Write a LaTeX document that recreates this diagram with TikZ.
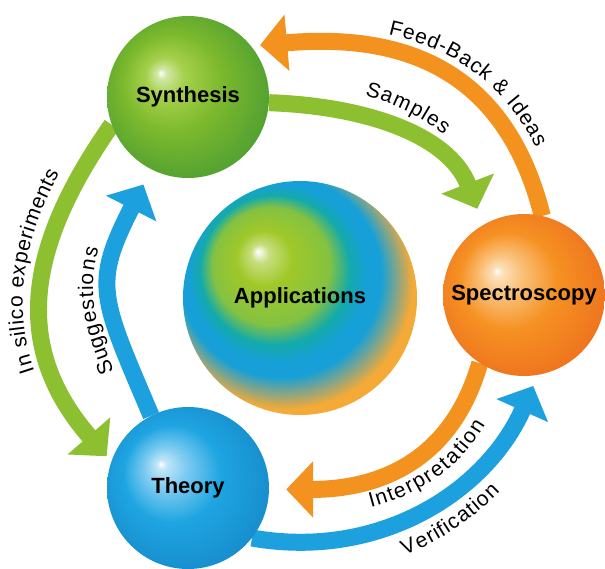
\documentclass[tikz,border=0pt]{standalone}
\usepackage{fontspec}
\setmainfont{Liberation Sans}
\usetikzlibrary{arrows.meta, backgrounds, decorations.text}

\definecolor{arrorange}{RGB}{243,146,30}
\definecolor{arrgreen}{RGB}{141,192,48}
\definecolor{arrblue}{RGB}{28,160,222}

\definecolor{synlight}{RGB}{165,208,75}
\definecolor{synmid}{RGB}{125,185,45}
\definecolor{syndark}{RGB}{35,135,55}
\definecolor{speclight}{RGB}{250,195,125}
\definecolor{specmid}{RGB}{246,145,35}
\definecolor{specdark}{RGB}{228,78,24}
\definecolor{theolight}{RGB}{130,205,242}
\definecolor{theomid}{RGB}{30,165,225}
\definecolor{theodark}{RGB}{15,110,180}
\definecolor{appgreen}{RGB}{160,200,40}
\definecolor{appteal}{RGB}{20,170,170}
\definecolor{appblue}{RGB}{22,160,215}
\definecolor{apporange}{RGB}{245,170,55}

% radial shadings, the sphere edge lies at about 25bp
\pgfdeclareradialshading{synball}{\pgfpoint{-8.5bp}{7.5bp}}{%
  color(0bp)=(white); color(1.5bp)=(white!50!synlight); color(6bp)=(synlight);
  color(15bp)=(synmid); color(27bp)=(synmid!55!syndark); color(36bp)=(syndark)}
\pgfdeclareradialshading{specball}{\pgfpoint{-8.5bp}{7.5bp}}{%
  color(0bp)=(white); color(1.5bp)=(white!50!speclight); color(6bp)=(speclight);
  color(15bp)=(specmid); color(27bp)=(specmid!60!specdark); color(36bp)=(specdark)}
\pgfdeclareradialshading{theoball}{\pgfpoint{-8.5bp}{7.5bp}}{%
  color(0bp)=(white); color(1.5bp)=(white!50!theolight); color(6bp)=(theolight);
  color(15bp)=(theomid); color(27bp)=(theomid!60!theodark); color(36bp)=(theodark)}
\pgfdeclareradialshading{appball}{\pgfpoint{-9bp}{10bp}}{%
  color(0bp)=(white); color(2bp)=(white!40!appgreen); color(6bp)=(appgreen);
  color(12.5bp)=(appgreen!80!appteal); color(16bp)=(appteal); color(19bp)=(appblue);
  color(21.5bp)=(appblue); color(27bp)=(apporange); color(40bp)=(apporange)}

\newcommand{\spherefont}{\fontsize{22}{24}\selectfont\bfseries}
\newcommand{\labelfont}{\fontsize{21}{21}\selectfont}

\tikzset{
  sphere/.style={circle, shade, minimum size=162pt, inner sep=0pt, font=\spherefont, text=black},
  arclabel/.style n args={2}{postaction={decorate, decoration={text along path,
      text color=black, #2, text={|\labelfont|#1}}}},
}

\begin{document}
\begin{tikzpicture}[x=1pt, y=1pt]
\useasboundingbox (0,0) rectangle (605,-568);

\begin{scope}[every node/.style={sphere}]
    \node (syn) at (188, -97) [shading=synball] {Synthesis};
    \node (app) at (300, -298) [shading=appball, minimum size=234pt] {Applications};
    \node (spec) at (524, -295) [shading=specball] {Spectroscopy};
    \node (theo) at (188, -488) [shading=theoball] {Theory};
\end{scope}

\begin{scope}[on background layer,
              >={Triangle[width=55pt,length=27pt]},
              every edge/.style={draw, line width=17pt}]
    \path [->] (spec.77) edge[arrorange, out=104, in=5, looseness=1.15, shorten >=9pt,
        arclabel={Feed-Back {\&} Ideas}{raise=17pt, reverse path,
          text align={center, left indent=70pt}}] (syn.39);
    \path [->] (syn.-4) edge[arrgreen, out=-2, in=111, shorten >=17pt,
        arclabel={Samples}{raise=21pt, text align=center}] (spec.120);

    \path [->] (syn.200) edge[arrgreen, out=235, in=131, looseness=1.15, shorten >=7pt,
        arclabel={In silico experiments}{raise=19pt, reverse path,
          text align={center, left indent=46pt}}] (theo.161);
    \path [->] (theo.117) edge[arrblue, out=113, in=243, looseness=1.35, shorten >=17pt,
        arclabel={Suggestions}{raise=17pt, text align={center, right indent=36pt}}] (syn.243);

    \path [->] (spec.237) edge[arrorange, out=254, in=0, looseness=1.1, shorten >=17pt,
        arclabel={Interpretation}{raise=-29pt, reverse path,
          text align={center, left indent=45pt}}] (theo.-1);
    \path [->] (theo.-38) edge[arrblue, out=-10, in=246, shorten >=12pt,
        arclabel={Verification}{raise=-34pt, text align={center, left indent=30pt}}] (spec.-80);
\end{scope}
\end{tikzpicture}
\end{document}
